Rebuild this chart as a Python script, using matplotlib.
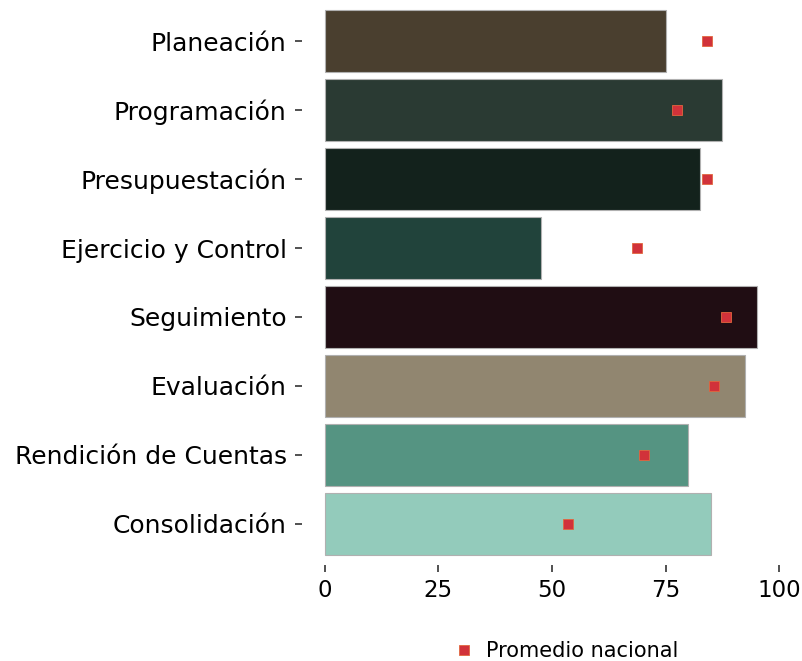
import numpy as np
import matplotlib.pyplot as plt
from matplotlib.lines import Line2D

# data
etapas = ["Planeación", "Programación", "Presupuestación", "Ejercicio y Control",
          "Seguimiento", "Evaluación", "Rendición de Cuentas", "Consolidación"]
valor_estado = [75.0, 87.5, 82.5, 47.5, 95.0, 92.5, 80.0, 85.0]
promedio_nacional = [84.0, 77.5, 84.2, 68.7, 88.2, 85.7, 70.2, 53.6]
colores = ["#4A3F2F", "#2A3A33", "#13221C", "#21433B",
           "#200D13", "#918670", "#559482", "#93CBBB"]
xticks = [0, 25, 50, 75, 100]

plt.rcParams['font.family'] = ['DejaVu Sans']

fig = plt.figure(figsize=(8.02, 6.61), dpi=100)
ax = fig.add_axes([302 / 802, 1 - 565 / 661, 500 / 802, 565 / 661])

y = np.arange(len(etapas))
ax.barh(y, valor_estado, height=0.9, color=colores, edgecolor="#B0B0B0", linewidth=0.8)
ax.plot(promedio_nacional, y, linestyle="none", marker="s", markersize=7,
        markerfacecolor="#D1323A", markeredgecolor="#E2663E", markeredgewidth=0.6)

ax.set_xlim(-5, 105)
ax.set_ylim(len(etapas) - 0.4, -0.6)
ax.set_yticks(y)
ax.set_yticklabels(etapas, fontsize=18)
ax.set_xticks(xticks)
ax.set_xticklabels([str(t) for t in xticks], fontsize=16.5)
ax.tick_params(axis="y", length=5, width=1.2, color="#333333", pad=6)
ax.tick_params(axis="x", length=5, width=1.2, color="#333333", pad=5)
for s in ax.spines.values():
    s.set_visible(False)

handle = Line2D([], [], linestyle="none", marker="s", markersize=7,
                markerfacecolor="#D1323A", markeredgecolor="#E2663E", markeredgewidth=0.6)
fig.legend([handle], ["Promedio nacional"], loc="center", bbox_to_anchor=(566 / 802, 1 - 651 / 661),
           frameon=False, fontsize=15, handlelength=1.0, handletextpad=0.6)

fig.savefig("out.png", dpi=100)
